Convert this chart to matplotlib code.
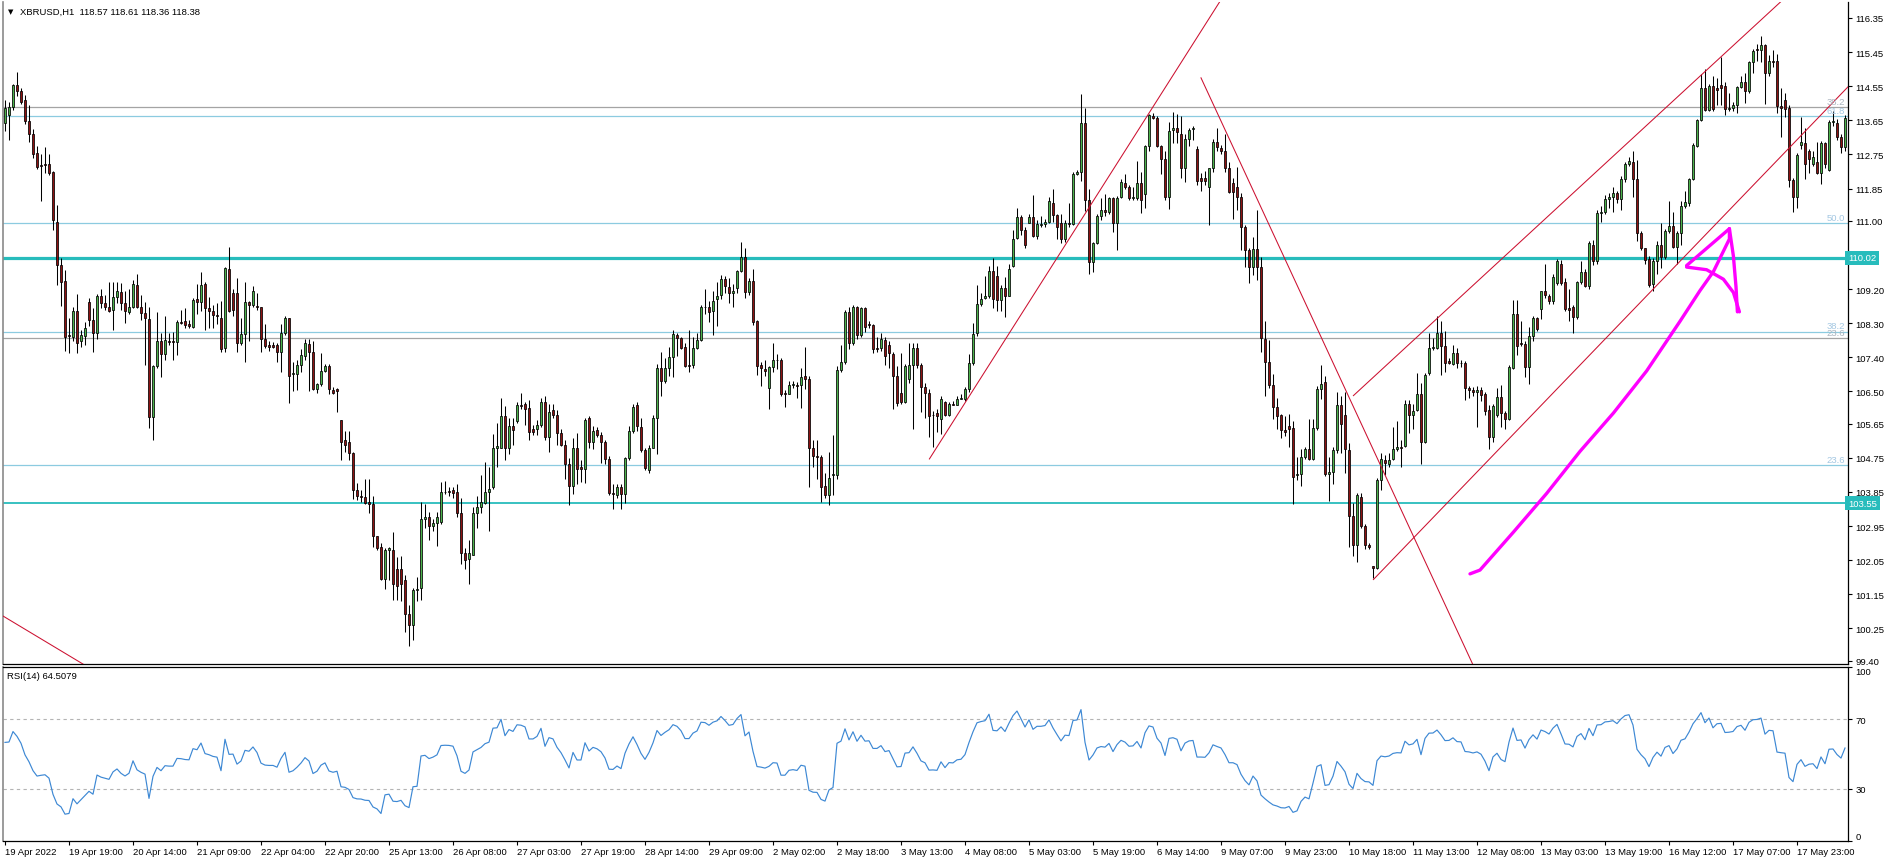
import matplotlib
matplotlib.use("Agg")
import matplotlib.pyplot as plt
import numpy as np
from matplotlib.transforms import blended_transform_factory

plt.rcParams["font.family"] = ["Liberation Sans", "DejaVu Sans"]

# ---------------- data ----------------
SYMBOL_TITLE = "XBRUSD,H1  118.57 118.61 118.36 118.38"
RSI_TITLE = "RSI(14) 64.5079"

opens = [
 113.58,113.80,114.00,114.59,114.41,114.19,113.63,113.28,112.79,112.47,
 112.49,112.49,112.29,110.98,109.83,109.42,107.98,107.93,108.62,107.83,
 107.95,108.86,108.38,108.03,109.02,108.82,108.74,108.64,108.99,109.12,
 108.82,108.59,108.74,109.32,108.74,108.56,108.41,105.83,107.17,107.83,
 107.48,107.83,107.83,107.81,108.33,108.35,108.29,108.21,108.94,108.86,
 109.34,108.69,108.62,108.52,108.45,107.65,109.72,109.09,109.09,107.78,
 108.01,108.86,108.79,108.76,108.72,107.88,107.73,107.73,107.73,107.55,
 108.05,108.43,106.97,106.97,107.20,107.43,107.75,107.55,106.57,106.70,
 107.04,107.17,106.54,106.57,105.76,105.21,105.16,104.88,103.91,103.74,
 103.71,103.59,103.54,102.68,102.40,101.55,102.33,102.33,101.83,101.83,
 101.52,100.64,100.34,101.27,101.32,103.14,103.19,102.94,103.04,103.07,
 103.84,103.87,103.89,103.84,103.29,102.23,102.08,
 102.20,103.29,103.44,103.57,103.84,103.97,105.02,105.02,105.86,105.02,
 105.59,105.71,106.13,106.16,106.06,105.51,105.51,105.61,106.23,105.29,
 106.01,105.89,105.41,105.08,104.60,104.01,105.02,104.50,104.45,105.81,
 105.16,105.49,105.36,105.16,104.72,103.81,103.77,103.99,103.79,104.75,
 105.46,106.13,105.56,104.95,104.42,105.02,105.81,107.12,106.77,107.12,
 107.41,107.98,107.91,107.68,107.20,107.20,107.65,107.85,108.74,108.74,
 108.62,108.94,109.04,109.46,109.26,109.09,109.24,109.67,110.05,109.12,
 109.42,108.35,107.20,107.10,106.60,107.14,107.34,107.34,106.47,106.44,
 106.67,106.67,106.67,106.90,106.84,105.00,104.80,104.78,104.01,103.77,
 104.30,104.30,107.07,107.27,108.59,107.78,108.74,107.98,108.69,108.28,
 108.25,107.65,107.65,107.85,107.73,107.48,106.92,106.47,106.21,106.82,
 107.20,107.65,107.20,106.62,106.47,
 105.89,105.94,105.78,106.21,105.89,106.17,106.14,106.31,106.31,106.57,
 107.25,108.03,108.81,108.96,109.01,109.67,109.54,108.91,109.24,109.03,
 109.82,110.55,111.11,110.75,110.93,111.11,110.61,110.88,110.91,110.98,
 111.46,111.15,110.93,110.51,110.93,110.91,112.24,112.29,113.57,111.54,
 109.92,110.41,111.13,111.28,111.23,111.59,110.93,111.64,111.99,111.89,
 111.59,111.59,111.99,111.72,112.97,113.76,113.71,112.97,112.63,111.64,
 113.40,113.45,113.30,112.39,113.17,113.43,112.90,112.14,112.14,111.89,
 112.39,113.07,112.93,112.85,112.39,111.99,111.89,111.62,110.83,110.22,
 109.77,110.25,109.77,107.88,107.28,106.67,106.09,105.87,105.48,105.60,
 105.53,104.29,104.32,104.77,104.98,104.73,105.53,106.57,106.74,104.32,
 104.37,104.96,106.14,105.89,104.96,103.21,102.46,103.72,102.96,102.46,
 101.90,101.85,
 104.16,104.69,104.60,104.72,104.97,105.04,105.07,106.18,105.88,106.01,
 106.43,105.17,106.99,107.64,107.64,108.05,107.69,107.29,107.22,107.52,
 107.26,107.24,106.58,106.55,106.48,106.55,106.43,106.01,105.30,105.88,
 106.35,105.93,105.78,107.12,108.55,107.79,107.74,107.14,107.95,108.45,
 108.67,109.14,109.01,108.88,109.36,109.86,109.38,108.70,108.73,108.47,
 109.38,109.66,109.28,110.37,109.95,111.20,111.23,111.58,111.63,111.73,
 111.58,112.11,112.49,112.54,112.11,110.67,110.27,109.99,109.34,109.95,
 110.35,110.05,110.72,110.87,110.32,110.67,111.38,111.48,112.11,112.97,
 113.65,114.49,113.92,114.56,114.51,114.59,114.56,113.95,113.98,114.05,
 114.53,114.66,114.41,115.19,115.52,115.50,115.64,114.89,115.21,115.21,
 114.02,114.18,113.98,112.07,111.63,113.01,113.04,112.84,112.51,112.54,
 112.27,113.04,112.34,113.60,113.58,113.21,112.94]

closes = [
 113.98,114.00,114.59,114.41,114.14,113.63,113.28,112.77,112.42,112.45,
 112.47,112.27,111.01,109.83,109.38,107.93,107.96,108.62,107.78,107.98,
 108.18,108.38,108.03,109.02,108.82,108.72,108.62,108.99,109.14,108.82,
 108.62,108.74,109.34,108.74,108.56,108.43,105.83,107.17,107.83,107.48,
 107.85,107.81,107.81,108.33,108.31,108.25,108.23,108.92,108.86,109.30,
 108.69,108.62,108.52,108.48,107.63,109.75,108.62,108.64,107.78,108.01,
 108.86,108.79,109.14,108.74,107.88,107.71,107.68,107.68,107.55,108.05,
 108.43,106.90,106.99,107.20,107.45,107.78,107.55,106.57,106.70,107.04,
 107.17,106.57,106.47,106.52,105.16,105.10,104.88,103.91,103.74,103.72,
 103.57,103.54,102.68,102.38,101.55,102.33,102.36,101.42,101.37,101.42,
 100.64,100.34,101.27,101.29,103.14,103.19,102.94,103.04,103.19,103.84,
 103.86,103.85,103.81,103.29,102.23,102.06,102.23,
 103.29,103.44,103.59,103.84,103.94,105.02,105.05,105.86,105.02,105.59,
 105.49,106.13,106.11,106.03,105.43,105.43,105.61,106.23,105.29,105.96,
 105.89,105.41,105.08,104.60,104.01,105.02,104.45,104.45,105.76,105.16,
 105.46,105.36,105.16,104.72,103.81,103.79,103.99,103.79,104.75,105.46,
 106.09,105.59,104.95,104.48,105.00,105.81,107.12,106.77,107.12,107.41,
 108.01,107.91,107.65,107.17,107.17,107.65,107.85,108.74,108.72,108.59,
 108.89,109.02,109.46,109.29,109.09,109.16,109.67,110.05,109.12,109.42,
 108.33,107.17,107.12,107.04,107.14,107.34,107.32,106.44,106.44,106.67,
 106.70,106.65,106.87,106.82,105.00,104.80,104.78,103.99,103.77,104.22,
 104.32,107.07,107.27,108.59,107.78,108.74,107.98,108.69,108.21,108.25,
 107.63,107.63,107.88,107.43,107.51,106.90,106.19,106.21,107.17,107.20,
 107.65,107.20,106.62,106.47,105.86,
 105.87,105.84,106.31,105.89,106.17,106.15,106.31,106.34,106.57,107.25,
 108.01,108.81,108.93,109.01,109.67,108.93,108.91,109.24,109.03,109.74,
 110.53,111.11,110.75,110.35,111.11,110.61,110.91,110.91,110.98,111.52,
 111.15,110.83,110.51,110.93,110.91,112.24,112.29,113.57,111.56,109.92,
 110.41,111.13,111.28,111.23,111.59,110.93,111.59,112.02,111.89,111.59,
 111.62,111.99,111.56,112.97,113.78,113.71,112.97,112.63,111.64,113.37,
 113.45,113.33,112.39,113.17,113.40,113.45,112.06,112.06,112.04,112.39,
 113.07,112.95,112.85,112.39,111.76,111.76,111.62,110.83,110.22,109.77,
 110.25,109.77,107.92,107.28,106.67,106.09,105.84,105.48,105.43,105.50,
 104.25,104.32,104.77,104.98,104.73,105.53,106.57,106.69,104.32,104.37,
 104.96,106.14,105.63,104.98,103.21,102.46,103.77,102.96,102.46,102.41,
 101.85,104.17,
 104.71,104.62,104.70,104.97,105.04,105.02,106.18,105.88,105.98,106.43,
 105.17,106.94,107.64,107.66,108.05,107.69,107.24,107.26,107.52,107.26,
 107.24,106.58,106.55,106.48,106.55,106.41,105.98,105.30,106.11,106.35,
 105.93,105.78,107.14,108.55,107.69,107.74,107.14,107.95,108.45,108.15,
 109.14,109.04,108.88,109.51,109.94,109.36,108.67,108.65,108.47,109.38,
 109.66,109.28,110.42,109.95,111.20,111.23,111.58,111.63,111.73,111.58,
 112.09,112.49,112.59,112.11,110.67,110.27,109.96,109.31,109.95,110.35,
 110.05,110.72,110.87,110.32,110.67,111.38,111.50,112.11,113.00,113.65,
 114.51,113.92,114.56,113.95,114.46,114.51,113.95,113.98,114.05,114.53,
 114.66,114.41,115.19,115.47,115.50,115.64,114.89,115.21,115.19,114.02,
 113.98,113.95,112.07,111.63,112.74,113.09,112.49,112.64,112.67,112.27,
 113.04,112.49,113.60,113.62,113.21,112.94,113.70]

highs = [
 114.19,114.14,114.61,114.92,114.49,114.31,114.06,113.43,112.97,112.77,
 112.95,112.77,112.32,111.41,110.03,109.70,108.43,108.74,109.06,108.13,
 108.33,108.96,108.69,109.06,109.19,109.04,109.39,109.39,109.39,109.36,
 109.14,109.19,109.44,109.60,109.04,108.86,108.74,107.19,108.59,108.03,
 108.48,108.03,108.08,108.38,108.64,108.69,108.38,108.96,109.34,109.65,
 109.39,108.99,108.79,108.84,108.89,109.77,110.30,109.19,109.49,108.43,
 109.39,108.89,109.29,109.09,108.74,108.28,107.83,107.80,107.78,108.28,
 108.48,108.45,107.27,107.32,107.63,107.88,107.88,107.83,106.72,107.51,
 107.22,107.22,106.62,106.60,105.76,105.46,105.46,104.90,104.08,103.89,
 104.20,104.20,103.74,102.68,102.50,102.38,102.40,102.80,102.13,102.16,
 101.67,100.87,101.32,101.62,103.59,103.54,103.31,103.14,103.31,104.10,
 104.15,103.99,103.97,104.05,103.69,102.38,102.58,
 103.44,103.74,104.30,104.65,104.50,105.39,105.66,106.32,106.11,105.81,
 105.81,106.21,106.47,106.21,106.27,105.61,105.76,106.32,106.37,106.16,
 106.16,106.01,105.51,105.21,104.75,105.26,105.41,104.70,105.81,105.86,
 105.59,105.56,105.43,105.21,104.80,104.05,104.05,104.05,104.78,105.59,
 106.16,106.23,105.81,105.00,105.10,105.89,107.22,107.53,107.37,107.68,
 108.13,108.05,107.93,107.78,108.11,107.93,108.03,108.79,109.19,108.89,
 109.14,109.39,109.56,109.54,109.49,109.34,109.70,110.43,110.27,109.49,
 109.73,108.38,107.27,107.34,107.17,107.78,107.48,107.37,106.54,106.77,
 106.77,106.74,107.12,107.68,106.92,105.23,105.21,104.82,104.35,104.90,
 105.36,107.17,107.73,108.64,108.74,108.79,108.76,108.74,108.74,108.35,
 108.28,107.93,108.03,107.93,107.83,107.53,107.17,107.51,107.22,107.78,
 107.78,107.78,107.24,106.72,106.57,
 105.99,106.04,106.37,106.24,106.21,106.24,106.37,106.44,106.61,107.50,
 108.31,109.32,109.09,109.54,109.82,110.02,109.82,109.32,109.52,109.87,
 110.75,111.33,111.15,110.83,111.18,111.69,111.03,111.13,111.05,111.64,
 111.84,111.18,111.18,111.03,111.46,112.29,112.34,114.34,113.98,111.84,
 110.43,111.18,111.59,111.72,111.64,111.64,111.66,112.09,112.24,111.94,
 111.89,112.57,112.29,113.00,113.81,113.84,113.76,113.00,112.85,113.61,
 113.86,113.81,113.76,113.30,113.45,113.50,112.97,112.26,112.32,112.39,
 113.15,113.45,113.00,113.30,112.55,112.14,112.41,111.74,110.88,110.28,
 110.58,111.28,110.04,108.36,107.85,106.95,106.34,105.91,105.84,105.91,
 105.73,104.77,104.98,105.03,105.78,105.78,106.64,107.20,106.91,104.77,
 105.03,106.49,106.39,106.49,105.13,103.57,103.82,103.82,103.01,102.51,
 101.90,104.22,
 104.87,104.82,104.87,105.57,105.73,105.22,106.28,106.28,106.18,106.99,
 106.73,106.99,108.05,107.90,108.50,108.35,108.10,107.39,107.72,107.64,
 107.34,107.29,106.65,106.63,106.65,106.61,106.48,106.13,106.18,106.58,
 106.66,105.98,107.19,108.91,108.91,108.35,107.83,108.20,108.50,108.47,
 109.16,109.86,109.08,109.61,109.99,109.96,109.48,109.21,108.77,109.41,
 109.95,109.74,110.47,110.49,111.28,111.40,111.68,111.73,111.88,111.78,
 112.19,112.54,112.67,112.84,112.61,110.72,110.29,110.07,110.02,110.47,
 110.95,110.79,111.53,111.22,110.72,111.53,111.78,112.14,113.04,113.68,
 114.86,115.01,114.61,114.81,114.76,115.31,114.66,114.36,114.12,114.56,
 114.81,114.91,115.21,115.52,115.67,115.87,115.67,115.36,115.50,115.40,
 114.51,114.36,114.05,112.14,112.79,113.75,113.45,112.89,112.84,113.09,
 113.11,113.09,113.65,113.90,113.68,113.30,113.78]

lows = [
 113.38,113.13,113.93,114.29,114.08,113.56,113.08,112.65,112.37,111.51,
 112.27,112.22,110.76,109.32,108.76,107.58,107.51,107.83,107.51,107.68,
 107.73,108.23,107.53,107.88,108.69,108.66,108.59,108.11,108.84,108.64,
 108.31,108.54,108.69,108.69,108.38,107.20,105.53,105.23,107.12,106.87,
 107.34,107.73,107.34,107.45,108.28,108.18,108.18,108.18,108.54,108.62,
 108.13,108.18,108.18,108.28,107.55,107.53,108.59,108.48,107.53,107.73,
 107.27,107.83,108.74,108.64,107.53,107.65,107.58,107.65,107.27,107.02,
 107.98,106.19,106.52,106.54,107.00,107.32,106.50,106.54,106.47,106.64,
 107.02,106.42,106.42,105.96,104.70,104.90,104.70,103.67,103.64,103.59,
 103.54,103.29,102.40,102.33,101.52,101.29,101.52,100.99,100.99,100.97,
 100.15,99.80,99.95,100.97,100.99,102.89,102.58,102.83,102.43,103.01,
 103.79,103.74,103.69,103.19,101.96,101.83,101.42,
 102.18,102.89,103.29,103.54,102.83,103.94,104.50,105.00,104.70,104.85,
 105.10,105.66,106.03,105.61,105.23,105.36,105.36,105.56,105.23,104.90,
 105.81,105.10,105.05,104.20,103.51,103.79,104.05,104.10,104.08,105.00,
 104.98,105.31,104.62,104.58,103.77,103.41,103.69,103.39,103.57,104.70,
 105.41,105.46,104.90,104.42,104.35,105.00,104.85,106.37,106.72,106.92,
 106.87,107.43,107.61,107.14,107.02,107.12,107.63,107.83,108.54,108.33,
 107.98,108.23,108.94,109.09,108.84,108.74,109.09,109.65,108.96,109.04,
 108.25,106.94,106.64,106.92,106.03,107.02,107.10,106.37,106.09,106.42,
 106.60,106.32,106.06,106.57,103.97,104.50,104.20,103.59,103.69,103.51,
 103.77,104.18,107.02,107.22,107.63,107.73,107.88,107.93,108.08,108.18,
 107.51,107.53,107.58,107.20,107.12,106.03,106.11,106.16,106.19,106.72,
 105.51,107.12,105.96,105.81,105.31,
 105.03,105.43,105.38,105.84,105.84,106.14,106.14,106.29,106.24,106.49,
 107.20,107.95,108.76,108.93,108.96,108.71,108.61,108.61,108.46,109.01,
 109.77,110.53,110.63,110.28,110.93,110.58,110.53,110.83,110.83,110.93,
 110.98,110.53,110.41,110.45,110.83,110.88,112.22,112.04,111.25,109.60,
 109.64,110.38,111.03,111.13,111.18,110.71,110.22,111.59,111.84,111.54,
 111.54,111.54,111.21,111.33,112.85,113.68,112.95,112.24,111.54,111.31,
 113.05,113.05,112.14,112.02,112.97,113.13,111.94,111.79,111.94,110.88,
 112.29,112.85,112.77,112.29,111.74,111.05,111.28,110.22,109.77,109.37,
 109.57,109.44,107.55,106.39,106.59,105.78,105.50,105.28,105.33,105.03,
 103.52,104.17,104.02,104.73,104.70,104.70,105.48,106.29,104.27,103.62,
 104.07,104.88,104.88,104.35,102.41,102.15,102.00,102.91,102.35,102.35,
 101.58,101.83,
 103.91,104.31,104.52,104.70,104.92,104.52,105.04,105.40,105.52,105.98,
 104.60,105.14,106.94,107.59,107.62,106.94,107.02,107.22,107.19,107.12,
 107.14,106.28,106.33,106.38,105.57,106.25,105.88,104.97,105.17,105.83,
 105.55,105.52,105.75,107.09,107.46,107.69,106.89,106.69,107.84,108.10,
 108.40,108.97,108.80,108.80,109.31,109.31,108.63,108.35,108.03,108.40,
 109.34,109.26,109.21,109.84,109.86,110.97,111.18,111.33,111.23,111.48,
 111.28,112.03,112.44,111.63,110.47,110.22,109.86,109.26,109.16,109.61,
 109.76,109.99,110.67,110.29,109.86,110.37,111.33,111.38,112.07,112.94,
 113.62,113.90,113.90,113.90,114.05,114.05,113.80,113.90,113.90,113.85,
 114.49,114.10,114.36,114.91,115.21,115.19,114.08,114.81,115.06,113.85,
 113.20,113.75,111.88,111.23,111.33,112.89,112.09,112.27,112.44,112.24,
 111.96,112.39,112.31,113.50,113.14,112.79,112.84]

time_labels = [
 "19 Apr 2022", "19 Apr 19:00", "20 Apr 14:00", "21 Apr 09:00", "22 Apr 04:00",
 "22 Apr 20:00", "25 Apr 13:00", "26 Apr 08:00", "27 Apr 03:00", "27 Apr 19:00",
 "28 Apr 14:00", "29 Apr 09:00", "2 May 02:00", "2 May 18:00", "3 May 13:00",
 "4 May 08:00", "5 May 03:00", "5 May 19:00", "6 May 14:00", "9 May 07:00",
 "9 May 23:00", "10 May 18:00", "11 May 13:00", "12 May 08:00", "13 May 03:00",
 "13 May 19:00", "16 May 12:00", "17 May 07:00", "17 May 23:00"]
LABEL_STEP = 16

price_ticks = [116.35, 115.45, 114.55, 113.65, 112.75, 111.85, 111.00, 109.20,
               108.30, 107.40, 106.50, 105.65, 104.75, 103.85, 102.95, 102.05,
               101.15, 100.25, 99.40]
rsi_ticks = [0, 30, 70, 100]
rsi_levels = [30, 70]

sr_levels = [110.02, 103.55]
fib_blue_levels = [104.57, 108.08, 110.95, 113.77]
fib_blue_names = ["23.6", "38.2", "50.0", "61.8"]
fib_gray_levels = [107.90, 114.01]
fib_gray_names = ["23.6", "38.2"]

# hand-drawn objects (bar index, price)
trend_lines = [
 [(-1.0, 100.61), (20.0, 99.28)],
 [(231.1, 104.72), (304.0, 116.83)],
 [(299.0, 114.77), (367.0, 99.29)],
 [(337.1, 106.39), (445.0, 116.88)],
 [(342.1, 101.54), (461.0, 114.56)],
]
arrow_shaft = [(366.25, 101.69), (368.75, 101.79), (377.1, 102.79), (385.4, 103.81),
               (393.75, 104.92), (402.1, 105.93), (410.4, 107.04), (418.75, 108.35),
               (423.75, 109.16), (427.1, 109.66), (431.1, 110.52), (431.1, 110.79)]
arrow_left_leg = [(420.4, 109.82), (431.1, 110.79)]
arrow_right_leg = [(431.1, 110.79), (432.1, 110.07), (432.75, 109.26), (433.1, 108.60)]
arrow_arc = [(420.4, 109.78), (425.4, 109.71), (429.6, 109.46), (432.1, 109.11), (433.6, 108.60)]

RSI_PERIOD = 14
RSI_SEED_GAIN, RSI_SEED_LOSS = 0.17, 0.13

# ---------------- style ----------------
BULL = "#4bb24b"
BEAR = "#8c1212"
TEAL = "#27bcbc"
FIB_BLUE = "#8ccbe0"
FIB_GRAY = "#a4a4a4"
FIB_TXT_BLUE = "#a3c7e2"
FIB_TXT_GRAY = "#aab4bf"
TREND = "#cc1030"
MAGENTA = "#ff00ff"
RSI_COLOR = "#3d88d4"
FS = 6.8

W, H = 1888, 862
fig = plt.figure(figsize=(W / 100, H / 100), dpi=100)
fig.patch.set_facecolor("white")

def fx(px):
    return px / W

def fy(py):
    return 1 - py / H

L, R = 3, 1848
MAIN_TOP, MAIN_BOT = 3, 665
RSI_TOP, RSI_BOT = 668, 842

ax = fig.add_axes([fx(L), fy(MAIN_BOT), fx(R - L), (MAIN_BOT - MAIN_TOP) / H])
axr = fig.add_axes([fx(L), fy(RSI_BOT), fx(R - L), (RSI_BOT - RSI_TOP) / H])

o = np.array(opens)
c = np.array(closes)
h = np.maximum.reduce([np.array(highs), o, c])
l = np.minimum.reduce([np.array(lows), o, c])
x = np.arange(len(c))
n = len(c)

XMIN, XMAX = -0.5, n - 0.25
for a in (ax, axr):
    a.set_xlim(XMIN, XMAX)
    a.set_facecolor("white")

ax.set_ylim(99.313, 116.77)

# levels
for lv in fib_gray_levels:
    ax.axhline(lv, color=FIB_GRAY, lw=0.9, zorder=1)
for lv in fib_blue_levels:
    ax.axhline(lv, color=FIB_BLUE, lw=0.9, zorder=1)
ax.axhline(sr_levels[0], color=TEAL, lw=2.3, zorder=1.5)
ax.axhline(sr_levels[1], color=TEAL, lw=1.3, zorder=1.5)

# candles
ax.vlines(x, l, h, color="black", lw=0.75, zorder=2)
body_bottom = np.minimum(o, c)
body_h = np.maximum(np.abs(c - o), 0.012)
cols = np.where(c > o, BULL, BEAR)
ax.bar(x, body_h, bottom=body_bottom, width=0.72, color=cols,
       edgecolor="black", linewidth=0.55, zorder=3)

# trend lines
for seg in trend_lines:
    xs, ys = zip(*seg)
    ax.plot(xs, ys, color=TREND, lw=0.75, zorder=4)

# magenta hand drawing
for pts in (arrow_shaft, arrow_left_leg, arrow_right_leg, arrow_arc):
    xs, ys = zip(*pts)
    ax.plot(xs, ys, color=MAGENTA, lw=2.4, solid_capstyle="round",
            solid_joinstyle="round", zorder=5)

# fib labels
bt = blended_transform_factory(ax.transAxes, ax.transData)
for lv, nm in zip(fib_blue_levels, fib_blue_names):
    ax.text(0.9985, lv + 0.03, nm, transform=bt, ha="right", va="bottom",
            fontsize=FS, color=FIB_TXT_BLUE, zorder=6)
for lv, nm in zip(fib_gray_levels, fib_gray_names):
    ax.text(0.9985, lv + 0.03, nm, transform=bt, ha="right", va="bottom",
            fontsize=FS, color=FIB_TXT_GRAY, zorder=6)

# price axis
ax.yaxis.tick_right()
ax.set_yticks(price_ticks)
ax.set_yticklabels(["%.2f" % v for v in price_ticks])
ax.tick_params(axis="y", direction="out", length=3, width=0.8, pad=2.2,
               labelsize=FS, colors="black")
ax.tick_params(axis="x", bottom=False, labelbottom=False)

for lv in sr_levels:
    ax.text(1.0, lv, "%.2f" % lv, transform=bt, ha="left", va="center",
            fontsize=FS, color="white", clip_on=False, zorder=7,
            bbox=dict(boxstyle="square,pad=0.28", fc=TEAL, ec="none"))

# spines
ax.spines["top"].set_visible(False)
ax.spines["left"].set_color("#8a8a8a")
ax.spines["left"].set_linewidth(1.2)
ax.spines["right"].set_color("black")
ax.spines["bottom"].set_color("black")
ax.spines["right"].set_linewidth(0.9)
ax.spines["bottom"].set_linewidth(0.9)

# RSI (Wilder smoothing of the closes)
ag, al = RSI_SEED_GAIN, RSI_SEED_LOSS
rsi = [100 - 100 / (1 + ag / al)]
for i in range(1, n):
    d = c[i] - c[i - 1]
    ag = (ag * (RSI_PERIOD - 1) + max(d, 0.0)) / RSI_PERIOD
    al = (al * (RSI_PERIOD - 1) + max(-d, 0.0)) / RSI_PERIOD
    rsi.append(100 - 100 / (1 + ag / al) if al > 0 else 100.0)

axr.set_ylim(0, 100)
for lv in rsi_levels:
    axr.axhline(lv, color="#b4b4b4", lw=0.8, ls=(0, (3, 3)), zorder=1)
axr.plot(x, rsi, color=RSI_COLOR, lw=0.85, zorder=3)

axr.yaxis.tick_right()
axr.set_yticks(rsi_ticks)
axr.set_yticklabels([str(v) for v in rsi_ticks])
axr.tick_params(axis="y", direction="out", length=3, width=0.8, pad=2.2,
                labelsize=FS, colors="black")
for lab in axr.get_yticklabels():
    if lab.get_text() == "100":
        lab.set_va("top")
    elif lab.get_text() == "0":
        lab.set_va("bottom")

label_pos = [i * LABEL_STEP for i in range(len(time_labels))]
axr.set_xticks(label_pos)
axr.set_xticklabels(time_labels)
axr.tick_params(axis="x", direction="out", length=3, width=0.8, pad=1.5,
                labelsize=FS, colors="black")
for lab in axr.get_xticklabels():
    lab.set_ha("left")

for s in ("top", "right", "bottom"):
    axr.spines[s].set_color("black")
    axr.spines[s].set_linewidth(0.9)
axr.spines["left"].set_color("#8a8a8a")
axr.spines["left"].set_linewidth(1.2)

# titles
fig.text(fx(8), fy(12), "\u25BC", fontsize=5.0, family=["DejaVu Sans"],
         va="center", ha="left", color="black")
fig.text(fx(20), fy(12), SYMBOL_TITLE, fontsize=FS, va="center", ha="left",
         color="black")
fig.text(fx(7), fy(677), RSI_TITLE, fontsize=FS, va="center", ha="left",
         color="black")

fig.savefig("out.png", dpi=100, facecolor="white")
